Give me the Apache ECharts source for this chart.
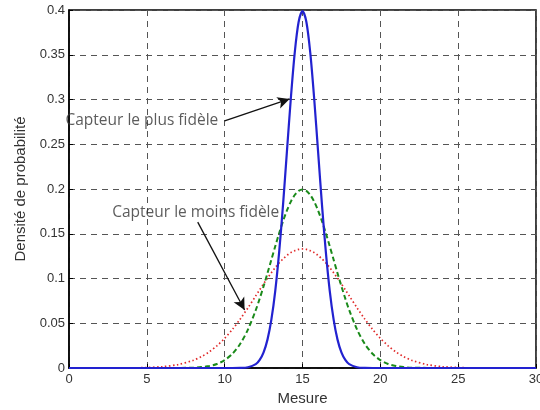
<!DOCTYPE html>
<html>
<head>
<meta charset="utf-8">
<script src="https://cdn.jsdelivr.net/npm/echarts@6/dist/echarts.min.js"></script>
<style>html,body{margin:0;padding:0;background:#fff}#c{width:540px;height:410px}</style>
</head>
<body>
<div id="c"></div>
<script>
var xs = [0,1,2,3,4,5,6,7,8,8.5,9,9.5,10,10.5,11,11.5,12,12.25,12.5,12.75,13,13.25,13.5,13.75,14,14.25,14.5,14.75,15,
  15.25,15.5,15.75,16,16.25,16.5,16.75,17,17.25,17.5,17.75,18,18.5,19,19.5,20,20.5,21,21.5,22,23,24,25,26,27,28,29,30];
var bluePlus = [0,0,0,0,0,0,0,0,0,0,0,0,0,0,0.0001,0.0009,0.0044,0.0091,0.0175,0.0317,0.0540,0.0863,0.1295,0.1826,0.2420,0.3011,0.3521,0.3866,0.3989,
  0.3866,0.3521,0.3011,0.2420,0.1826,0.1295,0.0863,0.0540,0.0317,0.0175,0.0091,0.0044,0.0009,0.0001,0,0,0,0,0,0,0,0,0,0,0,0,0,0];
var greenMid = [0,0,0,0,0,0,0,0.0001,0.0004,0.0010,0.0022,0.0045,0.0088,0.0159,0.0270,0.0431,0.0648,0.0775,0.0913,0.1059,0.1210,0.1360,0.1506,0.1641,0.1760,0.1859,0.1933,0.1979,0.1995,
  0.1979,0.1933,0.1859,0.1760,0.1641,0.1506,0.1360,0.1210,0.1059,0.0913,0.0775,0.0648,0.0431,0.0270,0.0159,0.0088,0.0045,0.0022,0.0010,0.0004,0.0001,0,0,0,0,0,0,0];
var redMoins = [0,0,0,0,0.0002,0.0005,0.0015,0.0038,0.0087,0.0127,0.0180,0.0248,0.0332,0.0432,0.0547,0.0673,0.0807,0.0874,0.0940,0.1004,0.1065,0.1122,0.1174,0.1219,0.1258,0.1289,0.1311,0.1325,0.1330,
  0.1325,0.1311,0.1289,0.1258,0.1219,0.1174,0.1122,0.1065,0.1004,0.0940,0.0874,0.0807,0.0673,0.0547,0.0432,0.0332,0.0248,0.0180,0.0127,0.0087,0.0038,0.0015,0.0005,0.0002,0,0,0,0];
var annotTexts = ['Capteur le plus fidèle', 'Capteur le moins fidèle'];
var annotTextAt = [[4.68, 0.277], [8.14, 0.174]];
var arrowFrom = [[10.0, 0.276], [8.27, 0.163]];
var arrowTo = [[14.17, 0.3006], [11.28, 0.0648]];

function zip(a, b) { return a.map(function (v, i) { return [v, b[i]]; }); }

var chart = echarts.init(document.getElementById('c'), null, {renderer: 'canvas'});
var axisFont = {color: '#333', fontSize: 13, fontFamily: 'Liberation Sans'};
chart.setOption({
  animation: false,
  grid: {left: 69, right: 4, top: 10, bottom: 42, show: true, borderColor: '#000', borderWidth: 1.5,
    backgroundColor: '#fff', containLabel: false, outerBoundsMode: 'none'},
  xAxis: {
    type: 'value', min: 0, max: 30, interval: 5,
    name: 'Mesure', nameLocation: 'middle', nameGap: 21,
    nameTextStyle: {color: '#333', fontSize: 15, fontFamily: 'Liberation Sans'},
    axisLine: {show: true, lineStyle: {color: '#000', width: 1.5}},
    axisTick: {show: true, inside: true, length: 4, lineStyle: {color: '#000'}},
    axisLabel: Object.assign({margin: 5, hideOverlap: false}, axisFont),
    splitLine: {show: true, lineStyle: {color: '#555', type: [6, 5], width: 1}}
  },
  yAxis: {
    type: 'value', min: 0, max: 0.4, interval: 0.05,
    name: 'Densité de probabilité', nameLocation: 'middle', nameGap: 41,
    nameTextStyle: {color: '#333', fontSize: 15, fontFamily: 'Liberation Sans'},
    axisLine: {show: true, lineStyle: {color: '#000', width: 1.5}},
    axisTick: {show: true, inside: true, length: 4, lineStyle: {color: '#000'}},
    axisLabel: Object.assign({margin: 4}, axisFont),
    splitLine: {show: true, lineStyle: {color: '#555', type: [6, 5], width: 1}}
  },
  series: [
    {type: 'line', name: 'moins', data: zip(xs, redMoins), showSymbol: false, smooth: 0.3,
      lineStyle: {color: '#e02a2a', width: 1.7, type: [1.5, 2.5]}},
    {type: 'line', name: 'mid', data: zip(xs, greenMid), showSymbol: false, smooth: 0.3,
      lineStyle: {color: '#1a8a1a', width: 2, type: [5, 3]}},
    {type: 'line', name: 'plus', data: zip(xs, bluePlus), showSymbol: false, smooth: 0.3,
      lineStyle: {color: '#2222d0', width: 2.2}},
    {type: 'scatter', symbolSize: 0, silent: true, z: 5,
      data: annotTextAt.map(function (p, i) { return {value: p, name: annotTexts[i]}; }),
      label: {show: true, position: 'inside', formatter: '{b}', color: '#333', fontSize: 15.5, fontFamily: 'Open Sans'},
      markLine: {
        silent: true, symbol: ['none', 'arrow'], symbolSize: [9, 12],
        label: {show: false},
        lineStyle: {color: '#111', width: 1.3, type: 'solid'},
        data: arrowFrom.map(function (p, i) { return [{coord: p}, {coord: arrowTo[i]}]; })
      }}
  ]
});
</script>
</body>
</html>
